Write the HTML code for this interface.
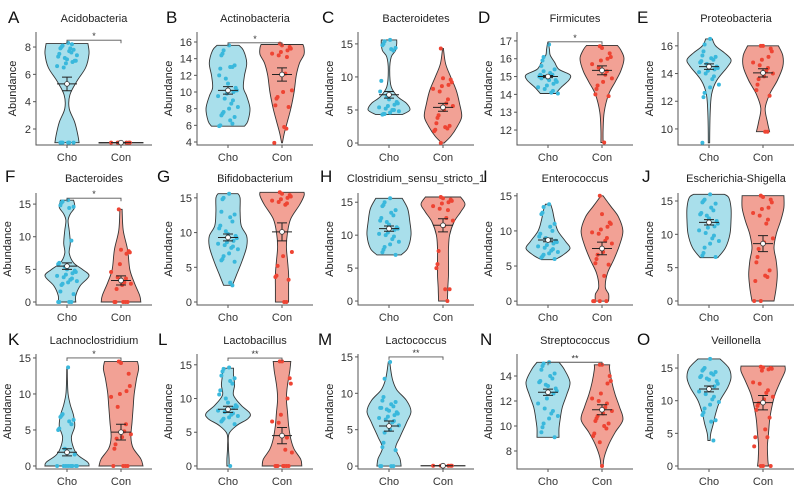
<!DOCTYPE html>
<html><head><meta charset="utf-8"><style>
html,body{margin:0;padding:0;background:#fff;}
svg{display:block;font-family:"Liberation Sans",Arial,sans-serif;}
</style></head><body>
<svg id="chart" width="797" height="487" viewBox="0 0 797 487" xmlns="http://www.w3.org/2000/svg"></svg>
<script>
const titles=["Acidobacteria","Actinobacteria","Bacteroidetes","Firmicutes","Proteobacteria","Bacteroides","Bifidobacterium","Clostridium_sensu_stricto_1","Enterococcus","Escherichia-Shigella","Lachnoclostridium","Lactobacillus","Lactococcus","Streptococcus","Veillonella"];
const letters=["A","B","C","D","E","F","G","H","I","J","K","L","M","N","O"];
const categories=["Cho","Con"];
const yDomains=[[0.83,9.1],[3.64,17.2],[-0.3,16.8],[11.16,17.5],[8.84,17.0],[-0.46,16.7],[-0.43,15.7],[-0.6,16.4],[-0.55,15.4],[-0.6,16.2],[-0.42,15.55],[-0.45,16.6],[-0.4,15.4],[6.56,15.76],[-0.46,17.15]];
const yTicks=[[2,4,6,8],[4,6,8,10,12,14,16],[0,5,10,15],[12,13,14,15,16,17],[10,12,14,16],[0,5,10,15],[0,5,10,15],[0,5,10,15],[0,5,10,15],[0,5,10,15],[0,5,10,15],[0,5,10,15],[0,5,10,15],[8,10,12,14],[0,5,10,15]];
const choProfiles=[
[[1,0.55],[1.5,0.5],[2.5,0.35],[3.5,0.1],[4.5,0.13],[5.5,0.45],[6.5,0.85],[7.5,1],[8.25,0.95]],
[[5.9,0.75],[6.5,0.9],[8,1],[9.5,0.85],[10.5,0.7],[12,0.75],[13.5,0.85],[15,0.7],[15.6,0.5]],
[[4.3,0.6],[5,0.95],[6,0.8],[7,0.4],[8.5,0.1],[11,0.03],[13,0.1],[14,0.3],[15,0.35],[15.6,0.35]],
[[14.05,0.35],[14.4,0.6],[14.8,0.95],[15.1,1],[15.4,0.5],[15.8,0.3],[16.2,0.1],[16.5,0.07],[16.9,0.02]],
[[9,0.03],[11,0.05],[12.5,0.12],[13.5,0.35],[14.5,0.85],[15,1],[15.5,0.7],[16,0.3],[16.5,0.15]],
[[0,0.4],[1,0.4],[2.5,0.6],[4,1],[5,0.7],[6,0.3],[7.5,0.1],[9,0.15],[11,0.1],[12.5,0.05],[13.5,0.15],[14.5,0.35],[15.6,0.3]],
[[2.4,0.2],[4,0.4],[6,0.65],[8,0.85],[9.5,0.85],[11,0.6],[13,0.55],[15,0.55],[15.6,0.45]],
[[7,0.55],[8,0.85],[10,1],[12,0.95],[14,0.85],[15.6,0.6]],
[[5.9,0.3],[6.5,0.65],[7.5,1],[8.5,0.8],[10,0.45],[11.5,0.3],[13,0.2],[13.8,0.12]],
[[6.5,0.4],[8,0.75],[10,0.95],[12,1],[14,1],[15.5,0.9],[16,0.7]],
[[0,1],[0.5,0.95],[1.5,0.5],[2.5,0.3],[4,0.2],[5.5,0.35],[7,0.3],[8.5,0.15],[10,0.05],[12,0.02],[13.7,0.01]],
[[0,0.05],[1,0.05],[3,0.02],[4.8,0.05],[6,0.4],[7,0.9],[7.8,1],[9,0.6],[10.5,0.25],[12,0.3],[13.5,0.25],[14.5,0.25]],
[[0,0.55],[1,0.5],[2.5,0.3],[4,0.5],[6,0.8],[7.5,1],[9,0.8],[10.5,0.35],[12,0.15],[14.3,0.03]],
[[9.1,0.5],[9.8,0.5],[10.5,0.55],[11.5,0.65],[12.5,0.85],[13.5,1],[14.5,0.75],[15.1,0.5]],
[[3.9,0.05],[5,0.08],[6.5,0.2],[8,0.3],[10,0.5],[12,0.85],[13.5,1],[15,0.9],[16.4,0.5]]];
const conProfiles=[
[[0.98,1],[1.02,1]],
[[3.9,0.02],[5,0.1],[6.5,0.25],[8,0.4],[10,0.55],[12,0.65],[13.5,0.8],[14.5,1],[15.3,1],[15.7,0.95]],
[[0,0.05],[1,0.35],[2.5,0.65],[4,0.85],[6,0.75],[8,0.6],[10,0.35],[12,0.12],[14.3,0.02]],
[[11.3,0.05],[12,0.05],[13,0.1],[14,0.3],[14.7,0.6],[15.3,0.85],[16,1],[16.5,0.85],[16.75,0.7]],
[[9.8,0.3],[10.5,0.2],[11.5,0.1],[12.5,0.3],[13.5,0.65],[14.5,0.9],[15.3,0.9],[16,0.7]],
[[0,0.9],[1,0.85],[3,0.6],[5,0.4],[8,0.3],[11,0.1],[14.2,0.05]],
[[0,0.3],[2,0.3],[4,0.3],[6,0.25],[8,0.2],[10,0.25],[12,0.4],[14,0.8],[15.3,1],[15.8,1]],
[[0,0.2],[2,0.22],[4,0.25],[6,0.25],[8,0.25],[10,0.3],[12,0.5],[13.5,0.8],[14.7,1],[15.8,0.8]],
[[0,0.3],[1,0.3],[2,0.15],[4,0.25],[6,0.55],[8,0.8],[10,0.95],[12,0.75],[13.5,0.4],[15,0.05]],
[[0,0.5],[2,0.6],[4,0.65],[6,0.6],[8,0.5],[10,0.6],[12,0.8],[14,0.95],[15.8,0.95]],
[[0,1],[1,0.9],[2.5,0.55],[4,0.45],[6,0.5],[8,0.55],[10,0.6],[12,0.7],[13.5,0.8],[14.5,0.75]],
[[0,0.9],[1,0.85],[2.5,0.55],[4,0.4],[6,0.3],[8,0.25],[10,0.2],[12,0.25],[14,0.35],[15.5,0.4]],
[[0.03,1],[0.07,1]],
[[6.8,0.05],[7.5,0.1],[8.5,0.3],[9.5,0.6],[10.5,0.95],[11.5,0.8],[12.5,0.6],[13.5,0.45],[14.5,0.35],[14.9,0.35]],
[[0,0.25],[1,0.22],[3,0.2],[5,0.25],[7,0.3],[9,0.4],[11,0.55],[13,0.8],[14.5,1],[15.3,1]]];
const choPoints=[
[8.3,8.1,8.0,7.9,7.8,7.7,7.6,7.5,7.3,7.2,7.1,7.0,7.0,6.9,6.8,6.6,6.5,8.2,7.9,7.4,1,1,1,1,1,1],
[15.6,15,14.6,14.4,13.2,13,13,12.8,12,11.6,11,10.5,10.2,10,9.8,9.5,9.2,9,8.6,8.2,8,7.6,7.4,7.2,7,6.6,6.2,6,5.9],
[15.6,15.4,15,14.8,14.4,14.2,14,9.4,7.8,7,6.6,6.2,6,5.8,5.6,5.4,5.2,5,5,4.8,4.6,4.4,4.4,4.3],
[16.8,16.1,15.9,15.6,15.4,15.2,15.1,15.1,15,15,14.9,14.8,14.7,14.6,14.5,14.4,14.3,14.2,14.1,14.05,14.8,15.3,15,14.9],
[16.5,16.1,15.6,15.3,15.2,15.1,15,14.9,14.8,14.7,14.6,14.5,14.4,14.3,14.2,14.1,14,13.8,13.6,13.2,13,12.6,12.3,9],
[15.6,15.4,15.2,14.8,14.6,14.4,9.4,6,5.8,5.4,5,4.8,4.6,4.4,4.2,4,3.8,3.6,3.4,3.2,3,2.8,2.6,1.6,1.2,0,0,0,0],
[15.6,15,14.8,13,12.6,12.2,11.6,11,10.6,10.2,9.8,9.5,9.2,8.8,8.6,8.4,8.2,8,7.8,7.6,7,6.6,6.2,6,5.8,2.8,2.4],
[15.6,15,14.6,14.4,13.8,13.4,13,12.6,12.2,12,11.6,11.2,11,10.8,10.4,10.2,10,9.8,9.4,9,8.6,8.2,7.8,7.4,7],
[13.8,13.4,12.6,12.4,11,10.6,10,9.6,9.2,9,8.8,8.6,8.4,8.2,8,7.8,7.6,7.4,7.2,7,6.8,6.6,6.4,6.2,6],
[16,15.2,15,14.8,14.6,14,13.6,13.2,13,12.8,12.4,12,11.6,11.2,11,10.6,10.2,9.8,9.4,9,8.6,8,7.2,6.8,6.6],
[13.7,7.2,7,6.8,6.4,6.2,5.8,5.2,5,2.4,1.8,1.6,0,0,0,0,0,0,0,0,0],
[14.6,14.4,14,13.4,13,12.6,12.2,11.2,10.6,10,9.4,9,8.8,8.6,8.4,8.2,8,7.8,7.6,7.4,7.2,7,6.8,6.6,6.2,0],
[14.3,12,9.5,9,8.8,8.5,8.2,8,8,7.8,7.6,7.4,7.2,7,6.8,6.6,6.4,6.2,6,5.6,5,4.6,3.2,2.6,2.2,0,0,0,0],
[15.1,15,14.8,14.5,14.2,14,13.8,13.6,13.5,13.3,13.2,13,12.8,12.6,12.2,11.8,11.4,11.2,11,10.8,10.6,10.2,9.9,9.5,9.1],
[16.4,15,14.8,14.6,14.4,14.2,14,13.8,13.6,13.4,13.2,13,12.6,12.2,11.8,11.4,11,10.6,10.2,9.8,9.4,8.8,8.2,7.8,7,6.8,3.9]];
const conPoints=[
[1,1,1,1,1,1,1,1],
[15.8,15.6,15.4,15.2,15,14.8,14.6,14.4,14.2,12.2,10.2,10,9.4,9.2,8.4,8.2,5.8,5.6,3.9],
[14.3,9.8,9.6,9.2,8.8,8.6,8.2,7.8,6.6,6,5.6,5,4.2,3.8,3,2.6,2.4,2.2,2,1.8,0],
[16.7,16.6,16.3,16.1,16,15.9,15.7,15.5,15.3,15.1,14.9,14.7,14.5,14.3,14,13.9,11.3],
[16,16,15.8,15.6,15.2,15,14.8,14.6,14.4,14.2,14,13.8,13.6,13.2,12.8,12.4,9.8,9.8],
[14.2,8,7.8,7.6,7.4,5.8,4.6,3.8,3.6,3,2.8,2.6,2,0,0,0,0,0],
[15.8,15.6,15.4,15.2,15,14.8,14.6,14.4,14.2,14,7.2,6.6,5.2,3.8,3.6,3.2,0,0],
[15.8,15.6,15.4,15.2,15,14.8,14.4,14,13.8,12.6,12.2,11.4,7.6,5.6,5,1.8,1.8,0],
[15,12.4,11.2,11,10.6,10.2,9.8,9.6,9,8.6,8.2,7,6.6,6,5.4,5.2,3.6,0,0,0,0],
[15.8,15.6,15.2,14.8,14,13.8,13.2,12.8,12.2,11.6,9.4,8.8,7.8,6.6,5.8,4.6,3.8,3.6,3,0,0],
[14.5,14.3,12.8,11.1,10.4,10,9.6,8.2,5.8,4.8,4.4,4,3.8,3,2.4,0,0,0,0],
[15.5,15.5,13,12.2,10,7.6,6.6,6.4,4.2,2.4,2,0,0,0,0,0,0,0],
[0.05,0.05,0.05,0.05,0.05,0.05,0.05],
[14.9,14.9,14,13.6,13.4,12.6,12.2,12,11.8,11.5,11.2,11,10.8,10.6,10.4,10.2,10,9.8,9.4,9.2,8.7,6.8],
[15.2,15.1,15,14.9,14.8,14.6,12.8,12.6,11.6,11.2,10.6,10.2,9.6,9.2,8.6,7.4,5.6,4.4,4.4,3,0,0,0]];
const choMean=[5.3,10.2,7.3,15.0,14.5,5.5,9.3,11.0,8.7,11.8,1.9,8.4,5.5,12.7,11.8];
const choSE=[0.5,0.45,0.5,0.06,0.2,0.5,0.5,0.4,0.25,0.4,0.5,0.45,0.7,0.25,0.45];
const conMean=[1.0,12.1,5.4,15.35,14.05,3.3,10.1,11.5,7.5,8.6,4.7,4.5,0.05,11.3,9.7];
const conSE=[0.02,0.8,0.6,0.25,0.3,0.7,1.3,1.0,0.9,1.2,1.1,1.2,0.02,0.4,1.1];
const sigLabels=["*","*","","*","","*","","","","","*","**","**","**",""];
const sigY=[8.5,15.9,0,16.95,0,15.9,0,0,0,0,15,16,15,15.1,0];

const svg=document.getElementById('chart');
const NS='http://www.w3.org/2000/svg';
const colAxisX=[36,197,358,517,678];
const rowTop=[32,193,354], rowBottom=[145,305,469];
const letterX=[[8,166,322,478,637],[5,157,320,483,642],[8,158,318,480,637]];
const letterY=[23,182,345], titleY=[22,182,344];
const choFill='#a9dfeb', conFill='#f2a195', choDot='#3ab8dc', conDot='#ee4433';
const jit=[0.1,-0.6,0.4,-0.2,0.8,-0.9,0.3,-0.4,0.6,-0.7,0.0,0.5,-0.3,0.9,-0.5,0.2,-0.8,0.7,-0.1,0.45];
function mk(tag,attrs,parent){const e=document.createElementNS(NS,tag);for(const k in attrs)e.setAttribute(k,attrs[k]);(parent||svg).appendChild(e);return e;}
function smooth(pts){let d='M'+pts[0][0]+','+pts[0][1];
  for(let i=0;i<pts.length-1;i++){const p0=pts[Math.max(0,i-1)],p1=pts[i],p2=pts[i+1],p3=pts[Math.min(pts.length-1,i+2)];
    const c1=[p1[0]+(p2[0]-p0[0])/6,p1[1]+(p2[1]-p0[1])/6],c2=[p2[0]-(p3[0]-p1[0])/6,p2[1]-(p3[1]-p1[1])/6];
    d+=' C'+c1[0].toFixed(1)+','+c1[1].toFixed(1)+' '+c2[0].toFixed(1)+','+c2[1].toFixed(1)+' '+p2[0].toFixed(1)+','+p2[1].toFixed(1);}
  return d;}
for(let p=0;p<15;p++){
  const r=Math.floor(p/5),c=p%5;
  const ax=colAxisX[c],top=rowTop[r],bot=rowBottom[r];
  const [lo,hi]=yDomains[p];
  const y=v=>bot-(v-lo)/(hi-lo)*(bot-top);
  const xc=[ax+31,ax+85], right=ax+116;
  const g=mk('g',{});
  
  
  const lt=mk('text',{x:letterX[r][c],y:letterY[r],'font-size':17,fill:'#111'},g);lt.textContent=letters[p];
  
  
  const tt=mk('text',{x:ax+58,y:titleY[r],'font-size':11,'text-anchor':'middle',fill:'#222'},g);tt.textContent=titles[p];
  
  
  const yl=mk('text',{x:0,y:0,'font-size':11,'text-anchor':'middle',fill:'#222',transform:'translate('+(ax-(p===0?20:25))+','+((top+bot)/2)+') rotate(-90)'},g);yl.textContent='Abundance';
  
  
  const axl=mk('path',{d:'M'+ax+','+top+' V'+bot+' H'+right,stroke:'#555',fill:'none','stroke-width':1},g);
  
  
  yTicks[p].forEach(t=>{const yy=y(t);
    mk('line',{x1:ax-3,x2:ax,y1:yy,y2:yy,stroke:'#555'},g);
    const tl=mk('text',{x:ax-5,y:yy+4,'font-size':11,'text-anchor':'end',fill:'#333'},g);tl.textContent=t;
    
    });
  const profs=[choProfiles[p],conProfiles[p]],pts=[choPoints[p],conPoints[p]],means=[choMean[p],conMean[p]],ses=[choSE[p],conSE[p]];
  const fills=[choFill,conFill],dots=[choDot,conDot];
  for(let k=0;k<2;k++){
    const cx=xc[k],W=22,pr=profs[k];
    mk('line',{x1:cx,x2:cx,y1:bot,y2:bot+3,stroke:'#555'},g);
    const xl=mk('text',{x:cx,y:bot+16,'font-size':11,'text-anchor':'middle',fill:'#333'},g);xl.textContent=categories[k];
    
    
    const rs=pr.map(q=>[cx+q[1]*W,y(q[0])]);
    const ls=pr.slice().reverse().map(q=>[cx-q[1]*W,y(q[0])]);
    let d=smooth(rs)+' L'+ls[0][0].toFixed(1)+','+ls[0][1].toFixed(1)+smooth(ls).replace(/^M[^C]*/,' ')+' Z';
    const v=mk('path',{d:d,fill:fills[k],stroke:'#333','stroke-width':0.9},g);
    
    
    pts[k].forEach((val,i)=>{const dot=mk('circle',{cx:cx+jit[(i*7+k*3)%jit.length]*11,cy:y(val),r:2,fill:dots[k]},g);
      
      });
    const m=y(means[k]),e1=y(means[k]+ses[k]),e2=y(means[k]-ses[k]);
    const eb=mk('path',{d:'M'+cx+','+e1+' V'+e2+' M'+(cx-5)+','+e1+' H'+(cx+5)+' M'+(cx-5)+','+e2+' H'+(cx+5)+' M'+(cx-10)+','+m+' H'+(cx+10),stroke:'#222','stroke-width':1,fill:'none'},g);
    
    
    const mc=mk('circle',{cx:cx,cy:m,r:2.4,fill:'#fff',stroke:'#333','stroke-width':0.8},g);
    
    
  }
  if(sigLabels[p]){const sy=y(sigY[p]);
    const br=mk('path',{d:'M'+xc[0]+','+(sy+3)+' V'+sy+' H'+xc[1]+' V'+(sy+3),stroke:'#555',fill:'none','stroke-width':0.9},g);
    
    
    const st=mk('text',{x:(xc[0]+xc[1])/2,y:sy-1,'font-size':9,'text-anchor':'middle',fill:'#333'},g);st.textContent=sigLabels[p];
    
    }
}
</script>
</body></html>
